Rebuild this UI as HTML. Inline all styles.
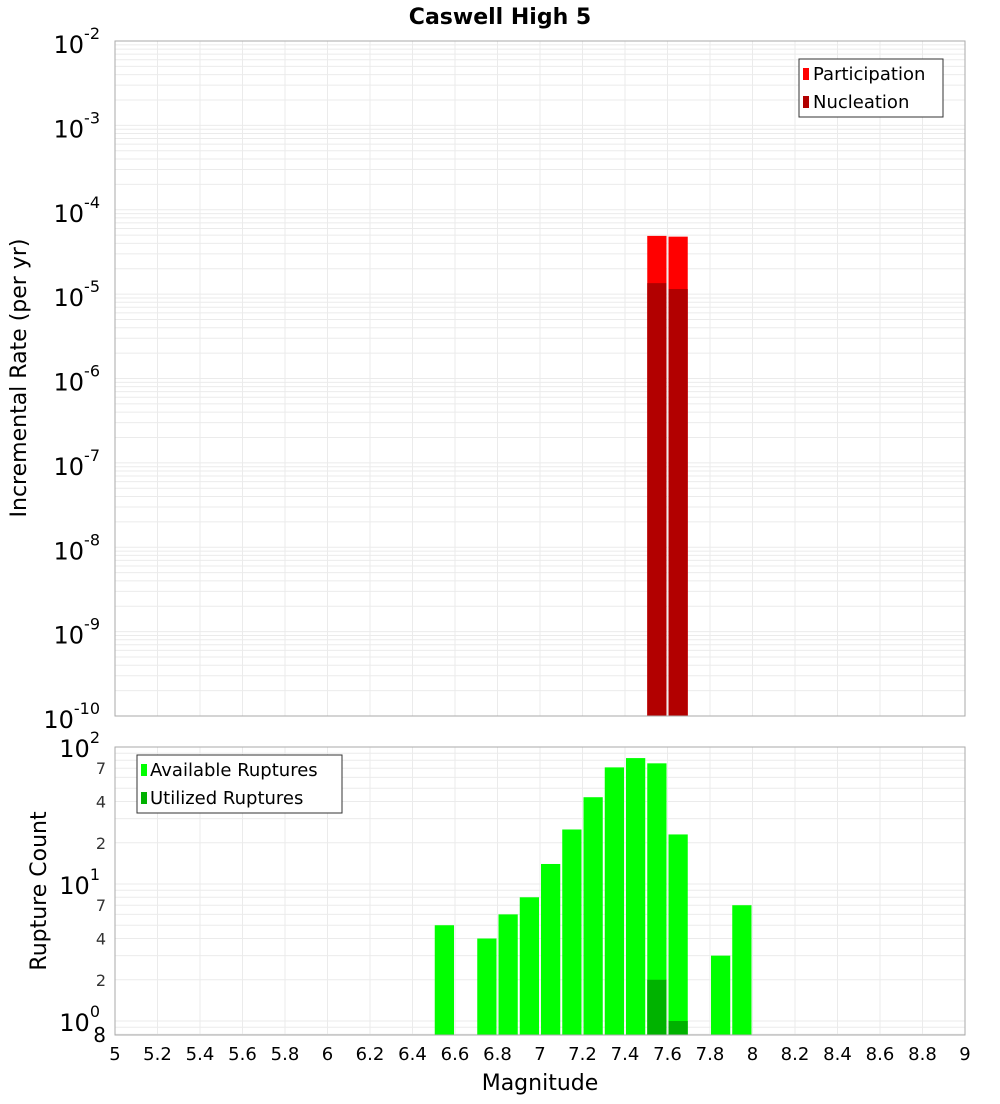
<!DOCTYPE html>
<html><head><meta charset="utf-8"><style>
body{margin:0;background:#fff;font-family:"DejaVu Sans","Liberation Sans",sans-serif}
</style></head><body>
<svg id="c" width="1000" height="1100" xmlns="http://www.w3.org/2000/svg" font-family="DejaVu Sans, Liberation Sans, sans-serif"></svg>
<script>
const binCenters=[7.55,7.65];
const participation=[4.9e-5,4.8e-5];
const nucleation=[1.35e-5,1.15e-5];
const rupMags=[6.55,6.75,6.85,6.95,7.05,7.15,7.25,7.35,7.45,7.55,7.65,7.85,7.95];
const available=[5,4,6,8,14,25,43,71,83,76,23,3,7];
const utilMags=[7.55,7.65];
const utilized=[2,1];
const xTicks=[5,5.2,5.4,5.6,5.8,6,6.2,6.4,6.6,6.8,7,7.2,7.4,7.6,7.8,8,8.2,8.4,8.6,8.8,9];
const topExps=[-2,-3,-4,-5,-6,-7,-8,-9,-10];
const botMinor=[2,4,7];

const svg=document.getElementById('c');const NS='http://www.w3.org/2000/svg';
function el(t,a,p,txt){const e=document.createElementNS(NS,t);for(const k in a)e.setAttribute(k,a[k]);if(txt!==undefined)e.textContent=txt;(p||svg).appendChild(e);return e;}
const L=115,R=965,T1=41,B1=716,T2=747,B2=1035;
const x=m=>L+(m-5)/4*(R-L);
const y1=v=>T1+(-2-Math.log10(v))*(B1-T1)/8;
const y2=v=>T2+(2-Math.log10(v))*137;
const bw=0.1*(R-L)/4;
el('text',{x:500,y:24,'text-anchor':'middle','font-size':22,'font-weight':'bold',},null,'Caswell High 5');
// top grid
const g1=el('g',{});
for(let e=-10;e<-2;e++)for(let k=1;k<10;k++){const yy=y1(k*Math.pow(10,e));el('line',{x1:L,x2:R,y1:yy,y2:yy,stroke:'#ebebeb'},g1);}
xTicks.forEach(t=>el('line',{x1:x(t),x2:x(t),y1:T1,y2:B1,stroke:'#ebebeb'},g1));
// top bars
binCenters.forEach((m,i)=>{
 let r=el('rect',{x:x(m-0.05)+1,y:y1(participation[i]),width:bw-2,height:B1-y1(participation[i]),fill:'#ff0000'});
 
 let n=el('rect',{x:x(m-0.05)+1,y:y1(nucleation[i]),width:bw-2,height:B1-y1(nucleation[i]),fill:'#b20000'});
 
});
el('rect',{x:L,y:T1,width:R-L,height:B1-T1,fill:'none',stroke:'#aaa',});
topExps.forEach(e=>{const yy=y1(Math.pow(10,e));
 const t=el('text',{x:100,y:yy+12,'text-anchor':'end','font-size':24});
 
 t.textContent='10';const s=el('tspan',{dy:-14,'font-size':16},t,String(e));});
el('text',{transform:'translate(26,378) rotate(-90)','text-anchor':'middle','font-size':22,},null,'Incremental Rate (per yr)');
// top legend
const lg=el('g',{});
el('rect',{x:799,y:59,width:144,height:58,fill:'#fff',stroke:'#333'},lg);
el('rect',{x:803,y:68,width:6,height:12,fill:'#ff0000'},lg);
el('text',{x:813,y:80,'font-size':18},lg,'Participation');
el('rect',{x:803,y:96,width:6,height:12,fill:'#b20000'},lg);
el('text',{x:813,y:108,'font-size':18},lg,'Nucleation');
// bottom grid
const g2=el('g',{});
[0.8,0.9].concat([1,2,3,4,5,6,7,8,9,10,20,30,40,50,60,70,80,90]).forEach(v=>{const yy=y2(v);el('line',{x1:L,x2:R,y1:yy,y2:yy,stroke:'#ebebeb'},g2);});
xTicks.forEach(t=>el('line',{x1:x(t),x2:x(t),y1:T2,y2:B2,stroke:'#ebebeb'},g2));
rupMags.forEach((m,i)=>{const r=el('rect',{x:x(m-0.05)+1,y:y2(available[i]),width:bw-2,height:B2-y2(available[i]),fill:'#00ff00'});
 });
utilMags.forEach((m,i)=>{const r=el('rect',{x:x(m-0.05)+1,y:y2(utilized[i]),width:bw-2,height:B2-y2(utilized[i]),fill:'#00b200'});
 });
el('rect',{x:L,y:T2,width:R-L,height:B2-T2,fill:'none',stroke:'#aaa',});
[2,1,0].forEach(e=>{const yy=y2(Math.pow(10,e));
 const t=el('text',{x:100,y:yy+10,'text-anchor':'end','font-size':24});
 
 t.textContent='10';el('tspan',{dy:-14,'font-size':16},t,String(e));});
[1,10].forEach(d=>botMinor.forEach(k=>{const t=el('text',{x:106,y:y2(k*d)+6,'text-anchor':'end','font-size':16,fill:'#333'},null,String(k));
 }));
el('text',{x:106,y:1042,'text-anchor':'end','font-size':20,},null,'8');
el('text',{transform:'translate(46,891) rotate(-90)','text-anchor':'middle','font-size':22,},null,'Rupture Count');
xTicks.forEach(t=>{const e=el('text',{x:x(t),y:1060,'text-anchor':'middle','font-size':18},null,String(t));
 });
el('text',{x:540,y:1090,'text-anchor':'middle','font-size':22,},null,'Magnitude');
const lg2=el('g',{});
el('rect',{x:137,y:755,width:205,height:58,fill:'#fff',stroke:'#333'},lg2);
el('rect',{x:141,y:764,width:6,height:12,fill:'#00ff00'},lg2);
el('text',{x:150,y:776,'font-size':18},lg2,'Available Ruptures');
el('rect',{x:141,y:792,width:6,height:12,fill:'#00b200'},lg2);
el('text',{x:150,y:804,'font-size':18},lg2,'Utilized Ruptures');
</script>
</body></html>
